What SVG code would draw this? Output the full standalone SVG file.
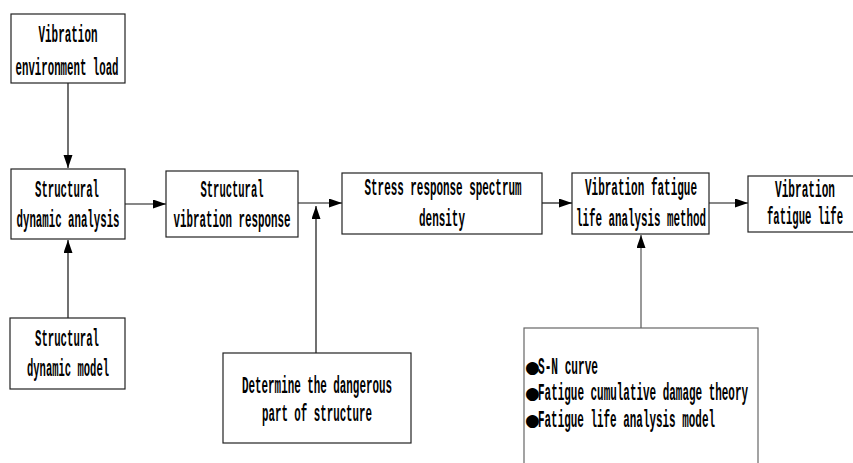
<svg xmlns="http://www.w3.org/2000/svg" width="853" height="463" viewBox="0 0 853 463">
<style>
.box{fill:#fff;stroke:#222;stroke-width:1.2}
.box2{fill:#fff;stroke:#666;stroke-width:1.2}
.t{font-family:"Liberation Mono",monospace;font-size:24px;font-weight:bold;fill:#000;text-anchor:middle}
.tl{font-family:"Liberation Mono",monospace;font-size:24px;font-weight:bold;fill:#000}
.b{font-family:"DejaVu Sans",sans-serif;font-size:17px;fill:#000}
.c{stroke:#111;stroke-width:1.2;fill:none}
.cg{stroke:#555;stroke-width:1.2;fill:none}
</style>
<defs>
<marker id="ah" markerUnits="userSpaceOnUse" markerWidth="14" markerHeight="10" refX="13" refY="4.5" orient="auto">
<path d="M0,0 L13,4.5 L0,9 z" fill="#000"/>
</marker>
</defs>
<g id="connectors">
<line class="c" x1="68" y1="83" x2="68" y2="168" marker-end="url(#ah)"/>
<line class="c" x1="68" y1="318" x2="68" y2="240" marker-end="url(#ah)"/>
<line class="c" x1="125" y1="204" x2="166" y2="204" marker-end="url(#ah)"/>
<line class="c" x1="298" y1="203" x2="342" y2="203" marker-end="url(#ah)"/>
<line class="c" x1="316" y1="353" x2="316" y2="206" marker-end="url(#ah)"/>
<line class="c" x1="542" y1="203" x2="572" y2="203" marker-end="url(#ah)"/>
<line class="c" x1="709" y1="203" x2="748" y2="203" marker-end="url(#ah)"/>
<line class="cg" x1="641" y1="328" x2="641" y2="235" marker-end="url(#ah)"/>
</g>
<g id="n1">
<rect class="box" x="11" y="14" width="114" height="69"/>
<text class="t" x="68" y="42" textLength="59" lengthAdjust="spacingAndGlyphs">Vibration</text>
<text class="t" x="67" y="75" textLength="103" lengthAdjust="spacingAndGlyphs">environment load</text>
</g>
<g id="n2">
<rect class="box" x="11" y="169" width="114" height="70"/>
<text class="t" x="67" y="197" textLength="64" lengthAdjust="spacingAndGlyphs">Structural</text>
<text class="t" x="68" y="227" textLength="103" lengthAdjust="spacingAndGlyphs">dynamic analysis</text>
</g>
<g id="n3">
<rect class="box" x="166" y="171" width="132" height="66"/>
<text class="t" x="232" y="197" textLength="63" lengthAdjust="spacingAndGlyphs">Structural</text>
<text class="t" x="232" y="227" textLength="117" lengthAdjust="spacingAndGlyphs">vibration response</text>
</g>
<g id="n4">
<rect class="box" x="342" y="173" width="200" height="61"/>
<text class="t" x="443" y="195" textLength="157" lengthAdjust="spacingAndGlyphs">Stress response spectrum</text>
<text class="t" x="442" y="226" textLength="46" lengthAdjust="spacingAndGlyphs">density</text>
</g>
<g id="n5">
<rect class="box" x="572" y="173" width="137" height="61"/>
<text class="t" x="641" y="195" textLength="112" lengthAdjust="spacingAndGlyphs">Vibration fatigue</text>
<text class="t" x="641" y="226" textLength="130" lengthAdjust="spacingAndGlyphs">life analysis method</text>
</g>
<g id="n6">
<rect class="box" x="748" y="176" width="110" height="56"/>
<text class="t" x="805" y="197" textLength="60" lengthAdjust="spacingAndGlyphs">Vibration</text>
<text class="t" x="805" y="224" textLength="76" lengthAdjust="spacingAndGlyphs">fatigue life</text>
</g>
<g id="n7">
<rect class="box" x="10" y="318" width="115" height="71"/>
<text class="t" x="67" y="346" textLength="64" lengthAdjust="spacingAndGlyphs">Structural</text>
<text class="t" x="68" y="376" textLength="82" lengthAdjust="spacingAndGlyphs">dynamic model</text>
</g>
<g id="n8">
<rect class="box" x="223" y="353" width="188" height="90"/>
<text class="t" x="317" y="393" textLength="150" lengthAdjust="spacingAndGlyphs">Determine the dangerous</text>
<text class="t" x="317" y="421" textLength="110" lengthAdjust="spacingAndGlyphs">part of structure</text>
</g>
<g id="n9">
<rect class="box2" x="524" y="328" width="234" height="150"/>
<text class="b" x="525" y="373">●</text>
<text class="tl" x="538" y="374" textLength="60" lengthAdjust="spacingAndGlyphs">S-N curve</text>
<text class="b" x="525" y="399">●</text>
<text class="tl" x="538" y="400" textLength="210" lengthAdjust="spacingAndGlyphs">Fatigue cumulative damage theory</text>
<text class="b" x="525" y="426">●</text>
<text class="tl" x="538" y="427" textLength="177" lengthAdjust="spacingAndGlyphs">Fatigue life analysis model</text>
</g>
</svg>
